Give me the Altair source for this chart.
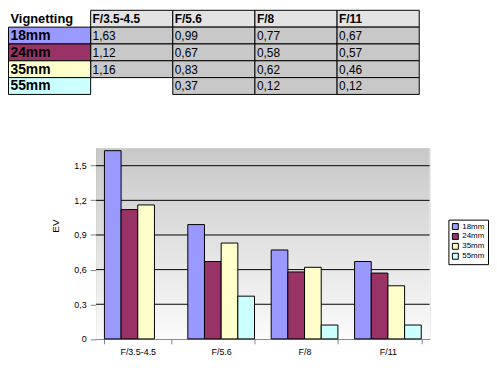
import altair as alt
import pandas as pd

# ---- data ----
apertures = ["F/3.5-4.5", "F/5.6", "F/8", "F/11"]
series = ["18mm", "24mm", "35mm", "55mm"]
v18 = [1.63, 0.99, 0.77, 0.67]
v24 = [1.12, 0.67, 0.58, 0.57]
v35 = [1.16, 0.83, 0.62, 0.46]
v55 = [None, 0.37, 0.12, 0.12]
colors = ["#9999FF", "#993366", "#FFFFCC", "#CCFFFF"]
y_ticks = [0, 0.3, 0.6, 0.9, 1.2, 1.5]
y_max = 1.65
corner_title = "Vignetting"
y_title = "EV"

FONT = "Liberation Sans"

vals = {"18mm": v18, "24mm": v24, "35mm": v35, "55mm": v55}
recs = []
for s in series:
    for a, v in zip(apertures, vals[s]):
        if v is not None:
            recs.append({"aperture": a, "series": s, "value": v,
                         "col": a, "row": s,
                         "text": f"{v:.2f}".replace(".", ",")})
bars_df = pd.DataFrame(recs)
hdr_df = pd.DataFrame({"col": apertures, "row": ["hdr"] * 4, "text": apertures})
lab_df = pd.DataFrame({"col": [corner_title] * 4, "row": series,
                       "series": series, "text": series})
corner_df = pd.DataFrame({"col": [corner_title], "row": ["hdr"], "text": [corner_title]})
grid_df = pd.DataFrame({"value": y_ticks[1:]})
bg_df = pd.DataFrame({"value": [0], "hi": [y_max]})

cols = [corner_title] + apertures
rows = ["hdr"] + series

color_scale = alt.Scale(domain=series, range=colors)

# ---- table ----
xs = alt.Scale(domain=cols, range=[-88.5, 326.5], paddingInner=0, paddingOuter=0)
ys = alt.Scale(domain=rows, range=[-139.5, -54.5], paddingInner=0, paddingOuter=0)
xr = alt.X("col:N", scale=xs, axis=None)
yr = alt.Y("row:N", scale=ys, axis=None)
xt = alt.X("col:N", scale=xs, axis=None, bandPosition=0)
yt = alt.Y("row:N", scale=ys, axis=None, bandPosition=1)

hdr_rect = alt.Chart(hdr_df).mark_rect(fill="#e3e3e3", stroke="black", strokeWidth=1).encode(x=xr, y=yr)
val_rect = alt.Chart(bars_df).mark_rect(fill="#c8c8c8", stroke="black", strokeWidth=1).encode(x=xr, y=yr)
lab_rect = alt.Chart(lab_df).mark_rect(stroke="black", strokeWidth=1).encode(
    x=xr, y=yr, color=alt.Color("series:N", scale=color_scale))

txt = dict(align="left", baseline="alphabetic", dx=2, dy=-4, font=FONT, color="black")
hdr_text = alt.Chart(hdr_df).mark_text(fontSize=12, fontWeight="bold", **txt).encode(x=xt, y=yt, text="text:N")
corner_text = alt.Chart(corner_df).mark_text(fontSize=13, fontWeight="bold", **txt).encode(x=xt, y=yt, text="text:N")
lab_text = alt.Chart(lab_df).mark_text(fontSize=14, fontWeight="bold", **txt).encode(x=xt, y=yt, text="text:N")
val_text = alt.Chart(bars_df).mark_text(fontSize=12, **txt).encode(x=xt, y=yt, text="text:N")

table = alt.layer(hdr_rect, val_rect, lab_rect, hdr_text, corner_text, lab_text, val_text)

# ---- bar chart ----
yscale = alt.Scale(domain=[0, y_max], nice=False, zero=True)
y_axis = alt.Axis(title=y_title, values=y_ticks,
                  labelExpr="datum.value == 0 ? '0' : replace(format(datum.value, '.1f'), '.', ',')",
                  labelFontSize=9, labelFont=FONT, labelColor="black", labelPadding=4,
                  tickSize=6, tickColor="#808080", domainColor="#808080", grid=False,
                  titleFont=FONT, titleFontSize=10, titleFontWeight="normal", titleColor="black",
                  titleAngle=270, titleX=-41, titleY=78, titleBaseline="middle", titleAlign="center")

grad = alt.LinearGradient(
    gradient="linear",
    stops=[alt.GradientStop(color="#c8c8c8", offset=0),
           alt.GradientStop(color="#fbfbfb", offset=1)],
    x1=0, x2=0, y1=0, y2=1)

bg = alt.Chart(bg_df).mark_rect(fill=grad).encode(
    y=alt.Y("value:Q", scale=yscale, axis=y_axis), y2="hi:Q")

grid = alt.Chart(grid_df).mark_rule(color="black", strokeWidth=1).encode(
    y=alt.Y("value:Q", scale=yscale, axis=y_axis))

bars = alt.Chart(bars_df).mark_bar(stroke="black", strokeWidth=1).encode(
    x=alt.X("aperture:N", scale=alt.Scale(domain=apertures, paddingInner=0.2, paddingOuter=0.1),
            axis=alt.Axis(title=None, labelAngle=0, labelFontSize=9, labelFont=FONT, labelColor="black",
                          labelPadding=4, tickSize=5, tickColor="#808080", domainColor="#808080",
                          tickBand="extent", grid=False)),
    xOffset=alt.XOffset("series:N", scale=alt.Scale(domain=series, paddingInner=0, paddingOuter=0)),
    y=alt.Y("value:Q", scale=yscale, axis=y_axis),
    color=alt.Color("series:N", scale=color_scale,
                    legend=alt.Legend(orient="none", legendX=356, legendY=72, title=None,
                                      strokeColor="black", fillColor="white", padding=3,
                                      symbolType="square", symbolSize=36, symbolStrokeColor="black",
                                      symbolStrokeWidth=1, labelFontSize=8, labelFont=FONT,
                                      labelColor="black", rowPadding=0, labelOffset=3)),
)

chart_part = alt.layer(bg, grid, bars)

chart = alt.layer(table, chart_part).resolve_scale(x="independent", y="independent").properties(
    width=337, height=192.5,
    autosize=alt.AutoSizeParams(type="none"),
    padding={"left": 89, "top": 140, "right": 60, "bottom": 20},
).configure_view(stroke=None).configure(background="white")

chart.save("out.html", embed_options={"renderer": "svg", "actions": False})
